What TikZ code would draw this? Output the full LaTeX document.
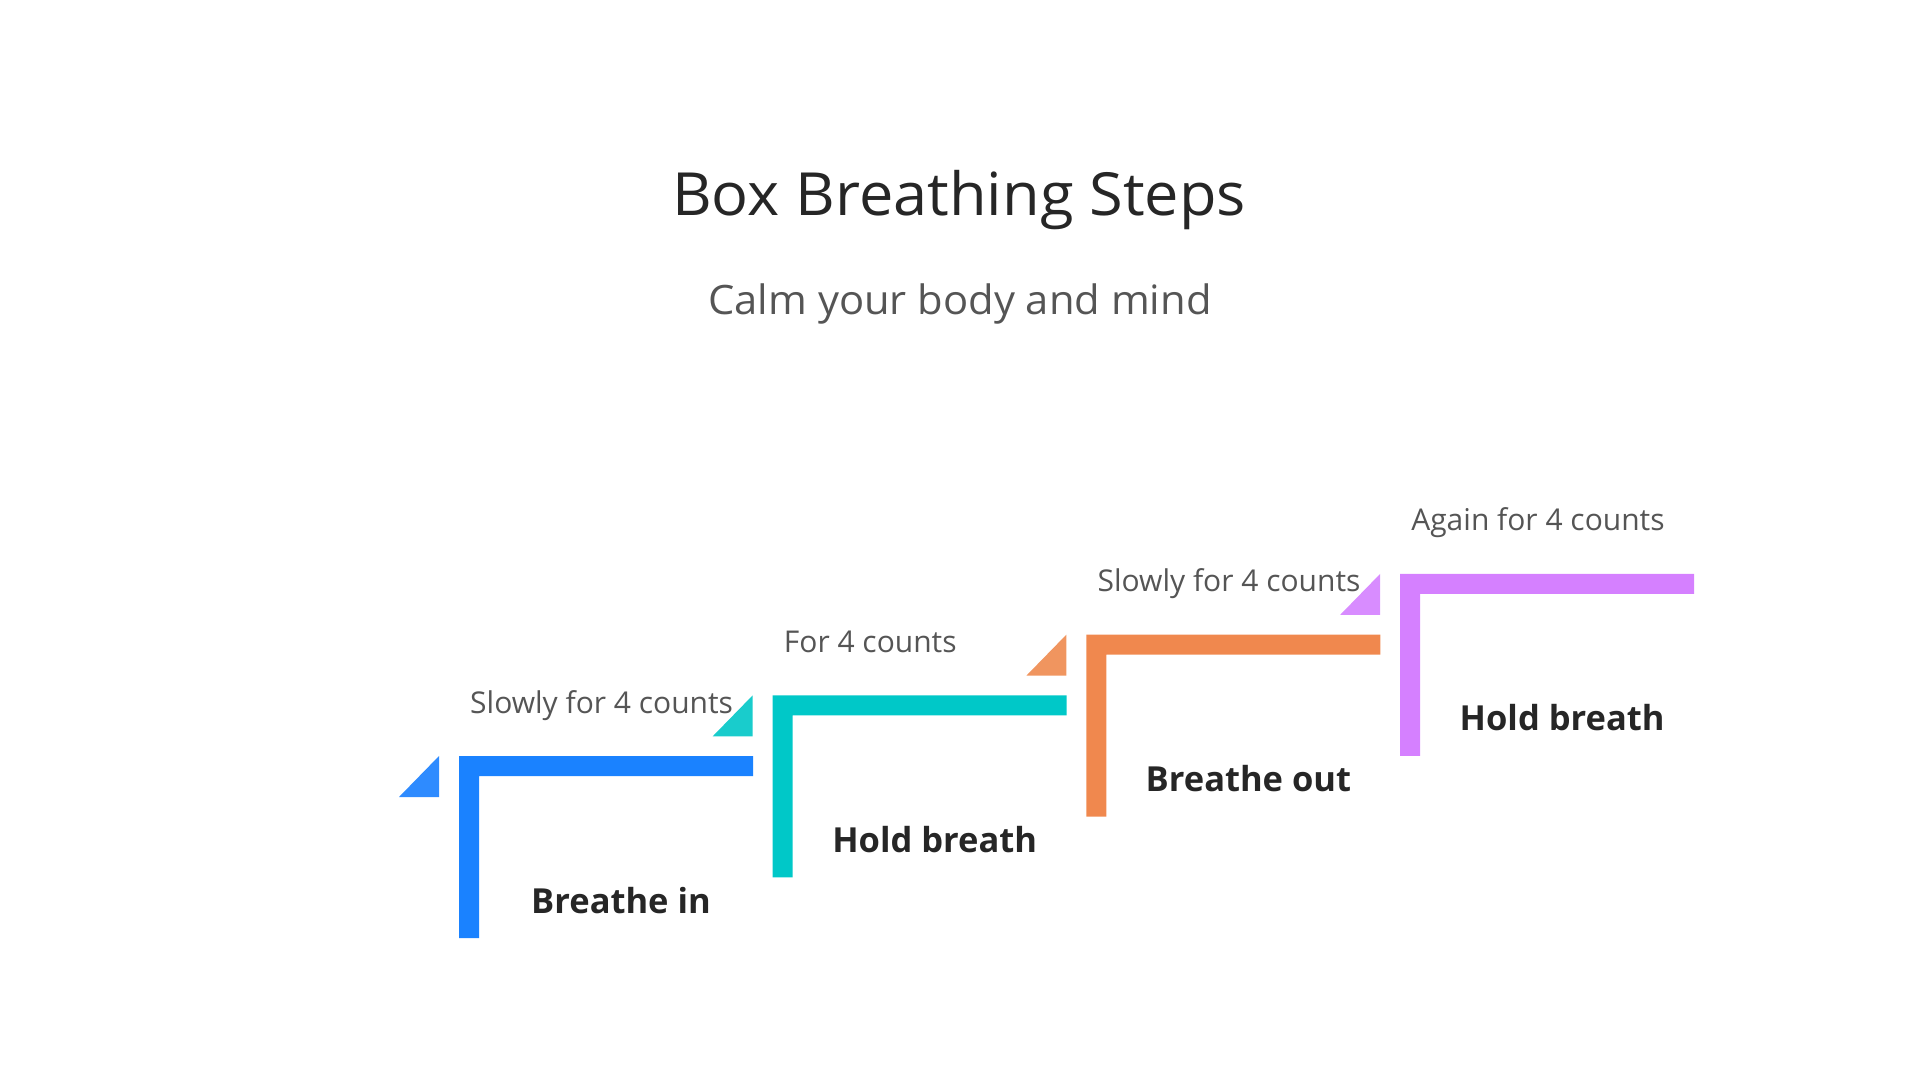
\documentclass[tikz,border=0pt]{standalone}
\usepackage{fontspec}
\setmainfont{Open Sans}
\newfontfamily\titlefont{Open Sans}[FakeStretch=1.03]
\usepackage{xcolor}
\usepackage{tikz}
\usetikzlibrary{positioning}

\definecolor{inkdark}{HTML}{262626}
\definecolor{inkgray}{HTML}{555555}
\definecolor{stepblue}{HTML}{1A82FF}
\definecolor{stepteal}{HTML}{00C8C8}
\definecolor{steporange}{HTML}{F0884E}
\definecolor{steppurple}{HTML}{D580FF}
\definecolor{triblue}{HTML}{2E8BFF}
\definecolor{triteal}{HTML}{19CCCC}
\definecolor{triorange}{HTML}{F0955F}
\definecolor{tripurple}{HTML}{D88CFF}

\begin{document}
\begin{tikzpicture}[
                x=1pt, y=-1pt,
                titletext/.style={inner sep=0, text=inkdark, font=\titlefont\fontsize{59.5}{70}\selectfont},
                subtext/.style={inner sep=0, text=inkgray, font=\titlefont\fontsize{40.5}{48}\selectfont},
                desctext/.style={inner sep=0, text=inkgray, font=\fontsize{30}{36}\selectfont},
                steptext/.style={inner sep=0, text=inkdark, font=\fontsize{34.5}{42}\selectfont\bfseries}
                ]

                \useasboundingbox (0,0) rectangle (1920,1080);

                % 제목
                \node[titletext, anchor=base] (title) at (959,215) {Box Breathing Steps};
                \node[subtext, anchor=base] (subtitle) at (960,314) {Calm your body and mind};

                % 계단
                \foreach \i/\col/\tri/\desc/\lab
                    [evaluate=\i as \bx using 459+313.7*\i,
                     evaluate=\i as \by using 756-60.7*\i] in {
                    0/stepblue/triblue/{Slowly for 4 counts}/{Breathe in},
                    1/stepteal/triteal/{For 4 counts}/{Hold breath},
                    2/steporange/triorange/{Slowly for 4 counts}/{Breathe out},
                    3/steppurple/tripurple/{Again for 4 counts}/{Hold breath}} {
                    \fill[\col] (\bx,\by) -- ++(294,0) -- ++(0,20) -- ++(-274,0)
                        -- ++(0,162) -- ++(-20,0) -- cycle;
                    \fill[\tri] (\bx-60,\by+41) -- (\bx-20,\by+41) -- (\bx-20,\by) -- cycle;
                    \node[desctext, anchor=base west] (desc\i) at (\bx+11,\by-43) {\desc};
                    \node[steptext, anchor=base] (step\i) at (\bx+162,\by+157) {\lab};
                }
            \end{tikzpicture}
\end{document}
